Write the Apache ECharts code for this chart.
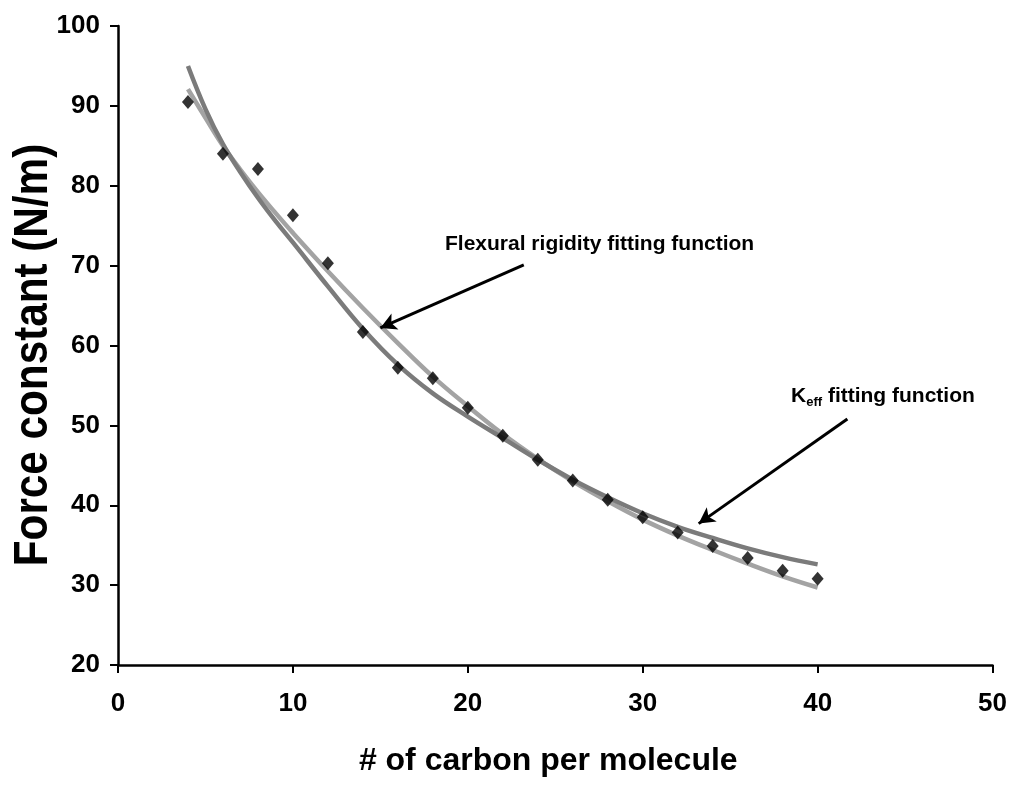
<!DOCTYPE html>
<html>
<head>
<meta charset="utf-8">
<title>Force constant vs carbon count</title>
<script src="https://cdn.jsdelivr.net/npm/echarts@6/dist/echarts.min.js"></script>
<style>
  html, body { margin: 0; padding: 0; background: #fff; }
  #forceChart { width: 1010px; height: 786px; }
</style>
</head>
<body>
<div id="forceChart"></div>
<script>
// measured points (diamonds)
let carbons = [4, 6, 8, 10, 12, 14, 16, 18, 20, 22, 24, 26, 28, 30, 32, 34, 36, 38, 40];
let forceValues = [90.5, 84.0, 82.1, 76.3, 70.3, 61.7, 57.2, 55.9, 52.2, 48.7, 45.7, 43.1,
  40.7, 38.5, 36.6, 34.9, 33.4, 31.8, 30.8];

// fitted curves
let fitCarbons = [4, 5, 6, 7, 8, 9, 10, 12, 14, 16, 18, 20, 22, 24, 26, 28, 30, 32, 34, 36, 38, 40];
let keffFit = [95.0, 89.6, 85.2, 81.7, 78.5, 75.6, 72.9, 67.4, 62.1, 57.6, 54.0, 51.1,
  48.4, 45.7, 43.2, 41.0, 39.0, 37.3, 35.9, 34.6, 33.5, 32.6];
let flexFit = [92.1, 88.5, 85.0, 82.0, 79.2, 76.6, 74.1, 69.3, 64.7, 60.3, 56.1, 52.4,
  48.9, 45.8, 43.0, 40.5, 38.2, 36.2, 34.4, 32.7, 31.1, 29.7];

// axis ticks
let xTicks = { min: 0, max: 50, step: 10 };
let yTicks = { min: 20, max: 100, step: 10 };

let font = "'Liberation Sans', Arial, Helvetica, sans-serif";

function pairs(xs, ys) {
  return xs.map((x, i) => [x, ys[i]]);
}

let axisCommon = {
  axisLine: { show: true, onZero: false, lineStyle: { color: '#000', width: 2.5 } },
  axisTick: { show: true, inside: false, length: 8, lineStyle: { color: '#000', width: 2 } },
  splitLine: { show: false },
  axisLabel: {
    color: '#000',
    fontFamily: font,
    fontWeight: 'bold',
    fontSize: 26
  }
};

let option = {
  backgroundColor: '#fff',
  animation: false,
  grid: { left: 118, right: 15, top: 26, bottom: 121, containLabel: false },
  xAxis: Object.assign({}, axisCommon, {
    type: 'value',
    min: xTicks.min,
    max: xTicks.max,
    interval: xTicks.step,
    name: '# of carbon per molecule',
    nameLocation: 'middle',
    nameGap: 80,
    nameTextStyle: { color: '#000', fontFamily: font, fontWeight: 'bold', fontSize: 32, padding: [0, 14, 0, 0] },
    axisLabel: Object.assign({}, axisCommon.axisLabel, { margin: 26 })
  }),
  yAxis: Object.assign({}, axisCommon, {
    type: 'value',
    min: yTicks.min,
    max: yTicks.max,
    interval: yTicks.step,
    axisLabel: Object.assign({}, axisCommon.axisLabel, { margin: 18 })
  }),
  graphic: [
    {
      type: 'text',
      x: 34,
      y: 355,
      rotation: Math.PI / 2,
      scaleX: 0.88,
      style: {
        text: 'Force constant (N/m)',
        fill: '#000',
        font: 'bold 48px ' + font,
        align: 'center',
        verticalAlign: 'middle',
        textAlign: 'center',
        textVerticalAlign: 'middle'
      }
    },
    {
      type: 'text',
      left: 445,
      top: 234,
      style: {
        text: 'Flexural rigidity fitting function',
        fill: '#000',
        font: 'bold 21px ' + font
      }
    },
    {
      type: 'text',
      left: 791,
      top: 386,
      style: {
        text: '{k|K}{s|eff}{k| fitting function}',
        fill: '#000',
        rich: {
          k: { fontFamily: font, fontWeight: 'bold', fontSize: 21, lineHeight: 24, verticalAlign: 'bottom' },
          s: { fontFamily: font, fontWeight: 'bold', fontSize: 13, lineHeight: 24, verticalAlign: 'bottom', padding: [0, 0, -2, 0] }
        }
      }
    }
  ],
  series: [
    {
      name: 'Flexural rigidity fitting function',
      type: 'line',
      data: pairs(fitCarbons, flexFit),
      smooth: 0.4,
      showSymbol: false,
      lineStyle: { color: '#a3a3a3', width: 4.5 },
      z: 2
    },
    {
      name: 'Keff fitting function',
      type: 'line',
      data: pairs(fitCarbons, keffFit),
      smooth: 0.4,
      showSymbol: false,
      lineStyle: { color: '#7b7b7b', width: 4.5 },
      z: 3
    },
    {
      name: 'Force constant',
      type: 'scatter',
      data: pairs(carbons, forceValues),
      symbol: 'diamond',
      symbolSize: [12, 14],
      itemStyle: { color: '#000' },
      z: 5,
      markLine: {
        silent: true,
        symbol: ['none', 'arrow'],
        symbolSize: [13, 16],
        label: { show: false },
        lineStyle: { color: '#000', width: 3, type: 'solid' },
        emphasis: { disabled: true },
        data: [
          [{ coord: [23.2, 70.1] }, { coord: [15.0, 62.2] }],
          [{ coord: [41.7, 50.8] }, { coord: [33.2, 37.7] }]
        ]
      }
    }
  ]
};

let forceChart = echarts.init(document.getElementById('forceChart'));
forceChart.setOption(option);
</script>
</body>
</html>
